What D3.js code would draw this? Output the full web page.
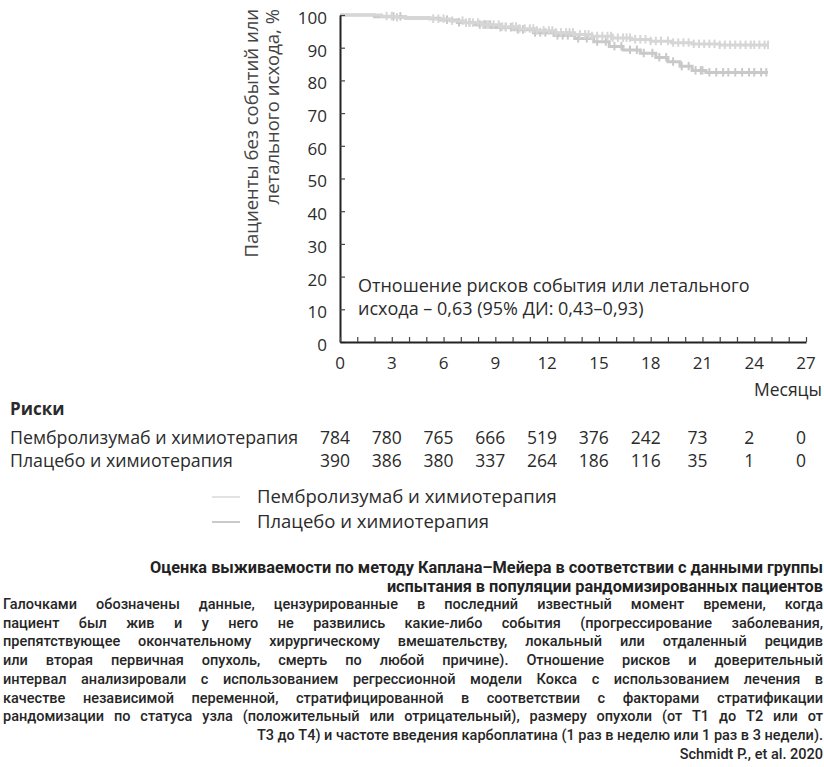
<!DOCTYPE html>
<html><head><meta charset="utf-8">
<script src="https://cdn.jsdelivr.net/npm/d3@7"></script>
<style>body{margin:0;background:#fff} svg{display:block}</style>
</head><body><svg id="c" width="824" height="767"></svg>
<script>
// ---------- data ----------
const yTicks=[0,10,20,30,40,50,60,70,80,90,100];
const xTicks=[0,3,6,9,12,15,18,21,24,27];
const monthTicks=[0,1,2,3,4,5,6,7,8,9,10,11,12,13,14,15,16,17,18,19,20,21,22,23,24,25,26,27];
const seriesNames=["Пембролизумаб и химиотерапия","Плацебо и химиотерапия"];
const riskMonths=[0,3,6,9,12,15,18,21,24,27];
const riskPembro=[784,780,765,666,519,376,242,73,2,0];
const riskPlacebo=[390,386,380,337,264,186,116,35,1,0];
// Kaplan–Meier steps: [month, % event-free]
const kmPembro=[[0,100],[2.4,99.6],[3.3,99.2],[5.2,98.8],[6.4,98.2],[7.2,97.6],[8.2,97.0],[9.3,96.4],[10.4,95.8],[11.4,95.2],[12.5,94.6],[13.6,94.0],[14.6,93.5],[15.8,93.0],[16.9,92.5],[18.0,92.0],[19.2,91.5],[20.4,91.1],[22.0,90.8],[24.8,90.8]];
const kmPlacebo=[[0,100],[2.0,99.5],[3.8,99.0],[5.8,98.5],[6.8,97.7],[7.8,97.0],[8.8,96.2],[10.0,95.5],[11.2,94.6],[12.4,93.7],[13.6,92.8],[14.7,91.8],[15.6,90.4],[16.4,89.3],[17.4,88.3],[18.3,87.0],[19.0,85.7],[19.7,84.3],[20.4,83.0],[21.2,82.4],[24.8,82.4]];
const censorPembro=[2.7,3.0,3.3,5.4,5.7,6.0,6.5,7.1,7.3,7.5,7.7,8.0,8.3,8.5,8.6,8.9,9.2,9.4,9.6,10.0,10.2,10.4,10.7,11.0,11.2,11.4,11.8,12.1,12.3,12.5,12.8,13.1,13.3,13.5,13.9,14.2,14.4,14.6,14.9,15.2,15.5,15.7,15.8,16.1,16.4,16.6,16.8,17.1,17.4,17.7,18.0,18.3,18.6,19.0,19.3,19.6,19.9,20.2,20.5,20.8,21.1,21.4,21.7,22.0,22.3,22.6,22.9,23.2,23.5,23.8,24.0,24.3,24.6,24.8];
const censorPlacebo=[3.1,3.5,6.2,6.9,7.5,8.1,8.4,8.7,9.3,9.6,9.9,10.3,10.6,11.3,11.6,11.9,12.6,12.9,13.2,13.8,14.3,14.9,15.4,15.9,16.3,16.8,17.2,17.6,18.1,18.5,18.9,19.3,19.8,20.2,20.6,20.9,21.0,21.4,21.8,22.2,22.5,22.9,23.3,23.7,24.0,24.4,24.7];
const hrText=["Отношение рисков события или летального","исхода – 0,63 (95% ДИ: 0,43–0,93)"];
const yTitle=["Пациенты без событий или","летального исхода, %"];
const xTitle="Месяцы";
const riskTitle="Риски";
const footTitle=["Оценка выживаемости по методу Каплана–Мейера в соответствии с данными группы","испытания в популяции рандомизированных пациентов"];
const footBody=["Галочками обозначены данные, цензурированные в последний известный момент времени, когда",
"пациент был жив и у него не развились какие-либо события (прогрессирование заболевания,",
"препятствующее окончательному хирургическому вмешательству, локальный или отдаленный рецидив",
"или вторая первичная опухоль, смерть по любой причине). Отношение рисков и доверительный",
"интервал анализировали с использованием регрессионной модели Кокса с использованием лечения в",
"качестве независимой переменной, стратифицированной в соответствии с факторами стратификации",
"рандомизации по статуса узла (положительный или отрицательный), размеру опухоли (от T1 до T2 или от"];
const footRight=["T3 до T4) и частоте введения карбоплатина (1 раз в неделю или 1 раз в 3 недели).","Schmidt P., et al. 2020"];

// ---------- drawing ----------
const svg=d3.select("#c");
const FONT="'Open Sans','Noto Sans',sans-serif";
const TXT="#2b2b2b";
const x=d3.scaleLinear().domain([0,27]).range([340,806]);
const y=d3.scaleLinear().domain([0,100]).range([342,15]);
const colors=["#d6d6d6","#c9c9c9"];

// curves
function stepVal(km,t){let v=km[0][1];for(const p of km){if(p[0]<=t)v=p[1];}return v;}
const line=d3.line().x(d=>x(d[0])).y(d=>y(d[1])).curve(d3.curveStepAfter);
[[kmPlacebo,censorPlacebo,colors[1]],[kmPembro,censorPembro,colors[0]]].forEach(([km,cs,col])=>{
  const g=svg.append("g");
  g.append("path").attr("d",line(km)).attr("fill","none").attr("stroke",col).attr("stroke-width",3);
  g.selectAll("line").data(cs).join("line")
    .attr("x1",d=>x(d)).attr("x2",d=>x(d))
    .attr("y1",d=>y(stepVal(km,d))-4.5).attr("y2",d=>y(stepVal(km,d))+4)
    .attr("stroke",col).attr("stroke-width",2);
});

// y axis
const ya=svg.append("g").attr("transform",`translate(${x(0)},0)`)
  .call(d3.axisRight(y).tickValues(yTicks).tickSizeInner(5).tickSizeOuter(0).tickFormat(""));
ya.select(".domain").attr("stroke","#222").attr("stroke-width",2);
ya.selectAll(".tick line").attr("stroke","#444").attr("stroke-width",1.2);
svg.append("g").selectAll("text").data(yTicks).join("text")
  .attr("x",327).attr("y",d=>y(d)+3).attr("dy","0.35em").attr("text-anchor","end")
  .attr("font-family",FONT).attr("font-size",17).attr("fill",TXT).text(d=>d);

// x axis
const xa=svg.append("g").attr("transform",`translate(0,${y(0)})`)
  .call(d3.axisBottom(x).tickValues(monthTicks).tickSizeInner(-5).tickSizeOuter(0).tickFormat(""));
xa.select(".domain").attr("stroke","#222").attr("stroke-width",1.8);
xa.selectAll(".tick line").attr("stroke","#444").attr("stroke-width",1.2);
svg.append("g").selectAll("text").data(xTicks).join("text")
  .attr("x",d=>x(d)).attr("y",363).attr("dy","0.35em").attr("text-anchor","middle")
  .attr("font-family",FONT).attr("font-size",17).attr("fill",TXT).text(d=>d);
svg.append("text").attr("x",822).attr("y",390).attr("dy","0.35em").attr("text-anchor","end")
  .attr("font-family",FONT).attr("font-size",17.5).attr("fill",TXT).text(xTitle);

// y title
yTitle.forEach((t,i)=>{
  svg.append("text").attr("transform",`translate(${252+i*21},9) rotate(-90)`)
    .attr("text-anchor","end").attr("dy","0.35em")
    .attr("font-family",FONT).attr("font-size",18.5).attr("fill","#444").text(t);
});

// HR annotation
hrText.forEach((t,i)=>{
  svg.append("text").attr("x",358).attr("y",286+i*23).attr("dy","0.35em")
    .attr("font-family",FONT).attr("font-size",18).attr("fill",TXT).text(t);
});

// risk table
svg.append("text").attr("x",10).attr("y",409).attr("dy","0.35em").attr("font-weight","bold")
  .attr("font-family",FONT).attr("font-size",17).attr("fill",TXT).text(riskTitle);
[[riskPembro,438],[riskPlacebo,461]].forEach(([vals,yy],i)=>{
  svg.append("text").attr("x",10).attr("y",yy).attr("dy","0.35em")
    .attr("font-family",FONT).attr("font-size",17.8).attr("fill",TXT).text(seriesNames[i]);
  svg.append("g").selectAll("text").data(vals).join("text")
    .attr("x",(d,j)=>x(riskMonths[j])-5).attr("y",yy).attr("dy","0.35em").attr("text-anchor","middle")
    .attr("font-family",FONT).attr("font-size",17.5).attr("fill",TXT).text(d=>d);
});

// legend
const legCols=["#e2e2e2","#cacaca"];
seriesNames.forEach((n,i)=>{
  const yy=497+i*25;
  svg.append("line").attr("x1",212).attr("x2",240).attr("y1",yy).attr("y2",yy)
    .attr("stroke",legCols[i]).attr("stroke-width",2);
  svg.append("text").attr("x",257).attr("y",yy).attr("dy","0.35em")
    .attr("font-family",FONT).attr("font-size",18.5).attr("fill",TXT).text(n);
});

// footnote (condensed, justified)
const FFONT="Roboto,'Open Sans',sans-serif";
const FS=14.5, L=3, R=823;
const tmp=svg.append("text").attr("font-family",FFONT).attr("font-size",FS).attr("font-weight",500).attr("visibility","hidden");
let maxW=0; footBody.forEach(s=>{tmp.text(s);maxW=Math.max(maxW,tmp.node().getComputedTextLength());});
const k=Math.min(1,(R-L)/maxW);
footTitle.forEach((t,i)=>{
  svg.append("text").attr("x",R).attr("y",567+i*19).attr("dy","0.35em").attr("text-anchor","end")
    .attr("font-family",FFONT).attr("font-size",16.3).attr("font-weight","bold").attr("fill","#222").text(t);
});
const fg=svg.append("g").attr("transform",`scale(${k},1)`);
footBody.forEach((s,i)=>{
  const words=s.split(" ");
  const ws=words.map(wd=>{tmp.text(wd);return tmp.node().getComputedTextLength();});
  const total=d3.sum(ws);
  const gap=((R-L)/k-total)/(words.length-1);
  let cx=L/k;
  const t=fg.append("text").attr("y",604+i*18.7).attr("dy","0.35em")
    .attr("font-family",FFONT).attr("font-size",FS).attr("font-weight",500).attr("fill","#262626");
  words.forEach((wd,j)=>{t.append("tspan").attr("x",cx).text(wd);cx+=ws[j]+gap;});
});
tmp.remove();
footRight.forEach((s,i)=>{
  fg.append("text").attr("x",R/k).attr("y",604+(7+i)*18.7).attr("dy","0.35em").attr("text-anchor","end")
    .attr("font-family",FFONT).attr("font-size",FS).attr("font-weight",500).attr("fill","#262626").text(s);
});
</script></body></html>
